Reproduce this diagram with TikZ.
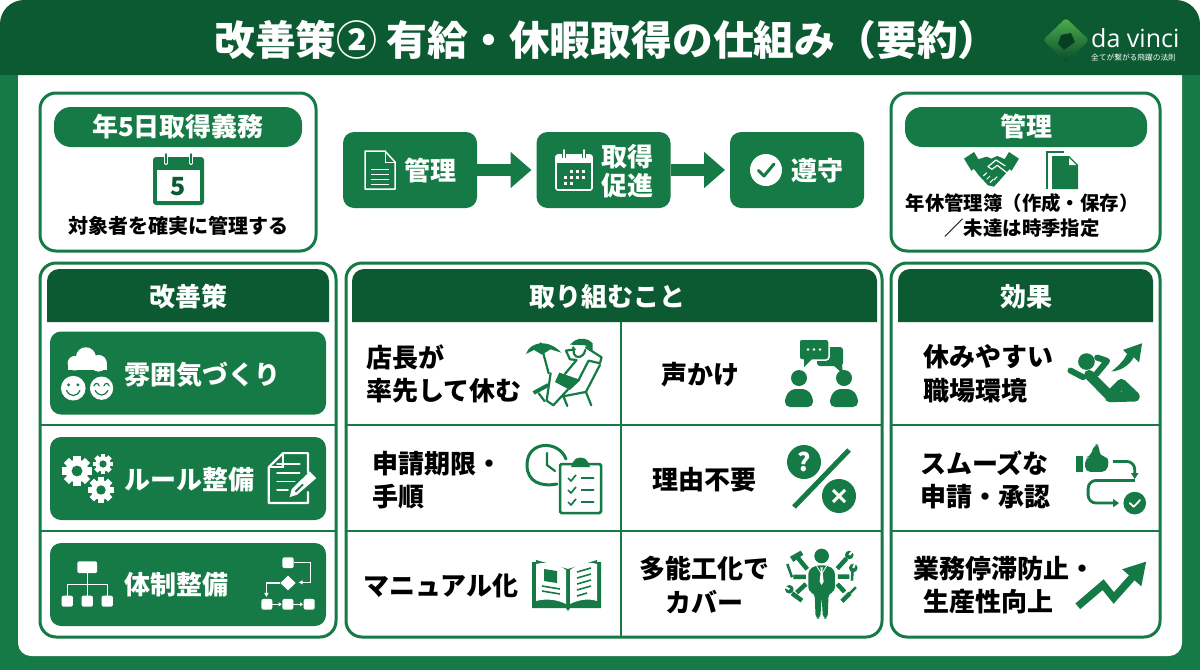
\documentclass[tikz,border=0pt]{standalone}
\usepackage{fontspec}
\setmainfont{Noto Sans CJK JP}
\newfontfamily\logofont{Open Sans}
\usetikzlibrary{arrows.meta}
\definecolor{hdrgreen}{HTML}{0B5A32}
\definecolor{boxgreen}{HTML}{157A45}
\newcommand\lblsize[2]{\fontsize{#1}{#2}\selectfont\bfseries}
\newcommand\stripband[5]{\fill [hdrgreen] (#1,322) [rounded corners = 12pt] -- (#1,269) -- (#2,269) [sharp corners] -- (#2,322) -- cycle; \node [striptext](#4) at (#3,296.5){#5};}
\newcommand\gearicon[3]{\begin{scope}[shift = {(#1,#2)}]
\foreach \a in {0,45,...,315} {\fill [white, rotate = \a] (-.24*#3,.5*#3) rectangle (.24*#3,#3);}
\fill [white] (0,0) circle (.76*#3);
\fill [boxgreen] (0,0) circle (.36*#3);
\end{scope}}
\newcommand\pageicon[3]{\begin{scope}[shift = {(#1,#2)}, scale = #3]
\draw [icon, white, line width = 1.5pt] (0,0) -- (20,0) -- (30,11) -- (30,38) -- (0,38) -- cycle;
\draw [white, line width = 1pt] (20,0) -- (20,11) -- (30,11);
\foreach \y in {18,23,28,33} {\draw [white, line width = 1pt] (6,\y) -- (24,\y);}
\end{scope}}
\newcommand\wrenchhead[2]{\fill [boxgreen] (#1) circle (13); \draw [white, line width = 2pt] (#1) -- +(#2);}
\begin{document}
\begin{tikzpicture}[x = 1pt, y = -1pt,
panel/.style = {draw = boxgreen, line width = 3pt, fill = white, rounded corners = 16pt, inner sep = 0pt, outer sep = 0pt},
pillbox/.style = {fill = boxgreen, rounded corners = 17pt, minimum height = 40pt, inner sep = 0pt, text = white, font = \lblsize{26}{30}},
flowbox/.style = {fill = boxgreen, rounded corners = 11pt, minimum width = 134pt, minimum height = 76pt, inner sep = 0pt, outer sep = 0pt},
btnbox/.style = {fill = boxgreen, rounded corners = 11pt, minimum width = 276pt, minimum height = 83pt, inner sep = 0pt, outer sep = 0pt},
flowarrow/.style = {draw = boxgreen, line width = 12pt, -{Triangle[length = 21pt, width = 35pt]}, shorten > = 5pt},
whitetext/.style = {text = white, inner sep = 0pt, font = \lblsize{26}{29}, align = center},
striptext/.style = {text = white, inner sep = 0pt, font = \lblsize{26}{30}},
celltext/.style = {text = black, inner sep = 0pt, font = \lblsize{26}{33.5}, align = left},
smalltext/.style = {text = black, inner sep = 0pt, font = \lblsize{20}{25}, align = center},
rule/.style = {draw = boxgreen, line width = 2.5pt},
icon/.style = {line join = round, line cap = round},
gline/.style = {draw = boxgreen, line width = 2.2pt, line join = round, line cap = round}]
\useasboundingbox (0,0) rectangle (1200,670);
\fill [boxgreen] (0,40) rectangle (1200,670);
\fill [white, rounded corners = 13pt] (18,50) rectangle (1182,656);
\fill [hdrgreen] (0,75) [rounded corners = 24pt] -- (0,0) -- (1200,0) [sharp corners] -- (1200,75) -- cycle;
\node [text = white, inner sep = 0pt, anchor = west, font = \lblsize{40.8}{44}](title) at (214,40){改善策② 有給・休暇取得の仕組み（要約）};
\shade [top color = green!55!black!70!white, bottom color = hdrgreen!80!black, rounded corners = 3pt] (1066,18) -- (1089,40) -- (1066,63) -- (1043,40) -- cycle;
\fill [hdrgreen!70!black] (1061,35) -- (1071,33) -- (1075,42) -- (1064,50) -- (1058,44) -- cycle;
\node [text = white, inner sep = 0pt, anchor = base west, font = \logofont\fontsize{25}{26}\selectfont](logo) at (1091,47){da vinci};
\node [text = white, inner sep = 0pt, anchor = west, font = \fontsize{7.7}{9}\selectfont](logosub) at (1091,58){全てが繋がる飛躍の法則};
\node [panel, minimum width = 276pt, minimum height = 158pt](duty) at (178,172){};
\node [pillbox, minimum width = 248pt](dutyhead) at (178,127){年5日取得義務};
\node [smalltext](dutytext) at (178,226){対象者を確実に管理する};
\begin{scope}[shift = {(153,153)}]
\fill [boxgreen, rounded corners = 3pt] (0,4) rectangle (51,52);
\fill [white] (4,17) rectangle (47,48);
\foreach \x in {13,38} {\draw [white, line width = 4pt, line cap = round] (\x,2) -- (\x,10); \draw [boxgreen, line width = 1.8pt, line cap = round] (\x,1) -- (\x,10);}
\end{scope}
\node [text = hdrgreen, inner sep = 0pt, font = \lblsize{25}{28}](dutyfive) at (178.5,187){5};
\matrix (flow) [column sep = 59.5pt, inner sep = 0pt] at (603.5,170) {
\node [flowbox](kanri){}; & \node [flowbox](sokushin){}; & \node [flowbox](junshu){}; \\
};
\draw [flowarrow](kanri) -- (sokushin);
\draw [flowarrow](sokushin) -- (junshu);
\pageicon{365}{151}{1}
\node [whitetext](kanritext) at (430,170.5){管理};
\begin{scope}[shift = {(556,150)}]
\draw [white, line width = 1.6pt, rounded corners = 2pt] (0,5) rectangle (36,40);
\fill [white] (0,5) rectangle (36,13);
\foreach \x in {8,28} {\draw [boxgreen, line width = 4pt] (\x,1) -- (\x,8); \draw [white, line width = 1.6pt, line cap = round] (\x,0) -- (\x,8);}
\foreach \x/\y in {14/20,20/20,26/20,8/26,14/26,20/26,26/26,8/32,14/32} {\fill [white] (\x,\y) rectangle +(3.4,3.4);}
\end{scope}
\node [whitetext](sokushintext) at (627,171){取得\\促進};
\fill [white] (766,170) circle (16pt);
\draw [boxgreen, line width = 3pt, line cap = round, line join = round] (758.5,170.5) -- (764,176) -- (774,164);
\node [whitetext](junshutext) at (817,170.5){遵守};
\node [panel, minimum width = 269pt, minimum height = 158pt](manage) at (1025.5,172){};
\node [pillbox, minimum width = 242pt](managehead) at (1026,127){管理};
\begin{scope}[shift = {(964,152)}, scale = .333]
\fill [boxgreen] (0,20) -- (30,0) -- (52,36) -- (22,56) -- cycle;
\fill [boxgreen] (165,20) -- (135,0) -- (113,36) -- (143,56) -- cycle;
\fill [boxgreen] (42,22) -- (68,14) -- (82,20) -- (100,12) -- (124,22) -- (138,50) -- (110,82) -- (90,104) -- (72,100) -- (46,72) -- (26,46) -- cycle;
\draw [white, line width = 1.2pt, line join = round] (124,42) -- (96,24) -- (72,44) -- (84,52) -- (100,40) -- (128,62);
\foreach \x/\y in {58/72,68/82,78/92,90/84} {\draw [white, line width = 1pt] (\x,\y) -- +(10,-10);}
\end{scope}
\begin{scope}[shift = {(1046,150)}]
\draw [boxgreen, line width = 2pt] (1,39) -- (1,2) -- (18,2);
\fill [boxgreen] (6,6) -- (23,6) -- (32,15) -- (32,39) -- (6,39) -- cycle;
\fill [white] (23,8) -- (30,15) -- (23,15) -- cycle;
\end{scope}
\node [smalltext, font = \lblsize{19.4}{25}](managetext) at (1022,215.5){年休管理簿（作成・保存）\\／未達は時季指定};
\node [panel, minimum width = 296pt, minimum height = 374pt](leftpanel) at (188,450){};
\node [panel, minimum width = 536pt, minimum height = 374pt](midpanel) at (614,450){};
\node [panel, minimum width = 269pt, minimum height = 374pt](rightpanel) at (1025.5,450){};
\foreach \y in {425,531} {
\draw [rule](40,\y) -- (336,\y);
\draw [rule](345,\y) -- (882,\y);
\draw [rule](891,\y) -- (1160,\y);
}
\draw [rule](621,322) -- (621,636);
\stripband{47}{329}{188}{lefthead}{改善策}
\stripband{352}{877}{607}{midhead}{取り組むこと}
\stripband{898}{1153}{1026}{righthead}{効果}
\node [btnbox](mood) at (188,373){};
\node [btnbox](rules) at (188,478.5){};
\node [btnbox](system) at (188,584.5){};
\node [whitetext, anchor = west](moodtext) at (124,374.5){雰囲気づくり};
\node [whitetext, anchor = west](rulestext) at (124,479.5){ルール整備};
\node [whitetext, anchor = west](systemtext) at (124,584.5){体制整備};
\begin{scope}[shift = {(0,260)}, scale = .333]
\fill [white] (225,310) circle (22) (258,292) circle (30) (296,310) circle (25);
\fill [white] (203,310) rectangle (321,330);
\fill [white] (220,385) circle (37) (305,385) circle (35);
\fill [boxgreen] (206,375) circle (5) (234,375) circle (5);
\draw [boxgreen, line width = 1.2pt, line cap = round] (200,392) .. controls (210,412) and (230,412) .. (240,392);
\draw [boxgreen, line width = 1.2pt, line cap = round] (282,378) .. controls (286,368) and (294,368) .. (298,378) (312,378) .. controls (316,368) and (324,368) .. (328,378) (286,392) .. controls (296,410) and (314,410) .. (324,392);
\end{scope}
\gearicon{77}{471}{15}
\gearicon{103}{464}{10}
\gearicon{101}{490}{13}
\begin{scope}[shift = {(0,260)}, scale = .333]
\draw [white, line width = 2.2pt, line join = round] (925,640) -- (925,580) -- (850,580) -- (807,622) -- (807,730) -- (925,730) -- (925,695);
\draw [white, line width = 1.6pt] (850,582) -- (850,622) -- (809,622);
\foreach \y/\e in {612/900,640/900,665/885,690/865} {\draw [white, line width = 1.6pt, line cap = round] (832,\y) -- (\e,\y);}
\fill [white] (930,635) -- (950,655) -- (892,705) -- (870,712) -- (876,688) -- cycle;
\fill [boxgreen] (908,672) -- (912,676) -- (889,698) -- (885,694) -- cycle;
\end{scope}
\begin{scope}[shift = {(0,260)}, scale = .333]
\fill [white, rounded corners = 2pt] (232,905) rectangle (292,940);
\foreach \x in {185,245,305} {\fill [white, rounded corners = 2pt] (\x,1008) rectangle +(34,33);}
\draw [white, line width = 1.2pt] (262,940) -- (262,1008) (202,1008) -- (202,975) -- (322,975) -- (322,1008);
\fill [white, rounded corners = 2pt] (848,893) rectangle (882,925);
\fill [white] (865,948) -- (888,970) -- (865,992) -- (842,970) -- cycle;
\foreach \x in {785,848,912} {\fill [white, rounded corners = 2pt] (\x,1018) rectangle +(33,32);}
\draw [white, line width = 1.2pt, -{Triangle[length = 4pt, width = 4pt]}] (882,908) -- (932,908) -- (932,968) -- (897,968);
\draw [white, line width = 1.2pt, -{Triangle[length = 4pt, width = 4pt]}] (840,970) -- (800,970) -- (800,1012);
\draw [white, line width = 1.2pt, -{Triangle[length = 3pt, width = 4pt]}] (818,1034) -- (846,1034);
\draw [white, line width = 1.2pt, -{Triangle[length = 3pt, width = 4pt]}] (881,1034) -- (910,1034);
\end{scope}
\node [celltext, anchor = west](r1) at (366,374){店長が\\率先して休む};
\node [celltext](r2) at (700,374.5){声かけ};
\node [celltext, anchor = west](r3) at (372,480){申請期限・\\手順};
\node [celltext](r4) at (704,480){理由不要};
\node [celltext](r5) at (441,586){マニュアル化};
\node [celltext, align = center](r6) at (704,585){多能工化で\\カバー};
\node [celltext, anchor = west](e1) at (923,373.5){休みやすい\\職場環境};
\node [celltext, anchor = west](e2) at (920,480){スムーズな\\申請・承認};
\node [celltext, anchor = west](e3) at (913,585){業務停滞防止・\\\hspace*{10pt}生産性向上};
\begin{scope}[shift = {(520,330)}, scale = .333]
\fill [boxgreen] (18,72) .. controls (30,35) and (85,25) .. (124,68) -- (92,58) -- (66,74) -- (42,60) -- cycle;
\draw [gline] (62,40) -- (86,130);
\draw [gline] (165,58) -- (138,62) -- (150,88) -- (170,90) (198,52) -- (245,82) -- (240,100) -- (206,92) (170,90) -- (135,132) (206,92) -- (176,150);
\draw [gline] (160,52) -- (162,72) .. controls (168,86) and (190,86) .. (196,60);
\fill [boxgreen] (150,44) -- (164,32) .. controls (180,22) and (205,24) .. (218,40) -- (218,62) -- (196,46) -- cycle;
\fill [boxgreen] (118,128) -- (182,150) -- (150,180) -- (105,156) -- cycle;
\draw [gline] (92,130) -- (80,212) -- (100,226) -- (150,172) (240,105) -- (198,186) -- (125,200) (198,186) -- (214,226) (130,198) -- (142,228);
\fill [boxgreen] (38,184) -- (82,160) -- (88,170) -- (44,194) -- cycle;
\draw [gline] (56,190) -- (74,214);
\end{scope}
\begin{scope}[shift = {(340,260)}]
\fill [boxgreen, rounded corners = 3pt] (477,87) rectangle (503,106);
\fill [boxgreen] (493,105) -- (503,114) -- (502,105) -- cycle;
\draw [white, line width = 1.5pt, fill = boxgreen, rounded corners = 3pt] (459,79) rectangle (489,100);
\fill [boxgreen] (464,99) -- (464,107) -- (472,99) -- cycle;
\fill [white] (468,89.5) circle (1.3pt) (474,89.5) circle (1.3pt) (480,89.5) circle (1.3pt);
\fill [boxgreen] (459,118) circle (8pt) (504,118) circle (8pt);
\fill [boxgreen, rounded corners = 5pt] (445,147) -- (445,137) -- (451,129) -- (467,129) -- (473,137) -- (473,147) -- cycle;
\fill [boxgreen, rounded corners = 5pt] (490,147) -- (490,137) -- (496,129) -- (512,129) -- (518,137) -- (518,147) -- cycle;
\end{scope}
\begin{scope}[shift = {(547,465)}]
\draw [boxgreen, line width = 3pt, line cap = round] (19,-6) .. controls (12,-25) and (-20,-25) .. (-20,0) .. controls (-20,17) and (-6,22) .. (10,19);
\draw [boxgreen, line width = 2.2pt, line cap = round] (0,-12) -- (0,0) -- (8,6);
\end{scope}
\begin{scope}[shift = {(560,464)}]
\draw [boxgreen, line width = 2.5pt, fill = white, rounded corners = 1.5pt] (0,0) rectangle (41,49);
\fill [boxgreen] (11,3) -- (13,-2) .. controls (15,-8) and (26,-8) .. (28,-2) -- (30,3) -- cycle;
\foreach \y in {14,26,38} {\draw [boxgreen, line width = 1.7pt] (8,\y) -- (11,\y+3) -- (16,\y-3) (21,\y) -- (34,\y);}
\end{scope}
\fill [boxgreen] (804,462) circle (17pt) (839,496) circle (17pt);
\draw [boxgreen, line width = 5pt](794,507) -- (849,450);
\node [text = white, inner sep = 0pt, font = \lblsize{25}{28}](question) at (804,462){?};
\draw [white, line width = 3pt] (833,490) -- (845,502) (845,490) -- (833,502);
\begin{scope}[shift = {(532,557)}]
\fill [boxgreen] (0,5) -- (0,51) -- (34,51) -- (36,54) -- (38,51) -- (69,51) -- (69,5) -- (65,5) -- (65,3) -- (36,12) -- (4,3) -- (4,5) -- cycle;
\fill [white] (4,7) .. controls (16,4) and (26,7) .. (34,13) -- (34,47) .. controls (26,43) and (15,41) .. (4,44) -- cycle;
\fill [white] (38,13) .. controls (46,7) and (56,4) .. (65,7) -- (65,44) .. controls (56,41) and (46,43) .. (38,47) -- cycle;
\fill [boxgreen] (12,12) -- (25,14) -- (25,26) -- (12,24) -- cycle;
\draw [boxgreen, line width = 1.6pt] (10,29) -- (28,32) (10,34) -- (28,37) (45,15) -- (59,11) (45,21) -- (59,17) (45,27) -- (59,23) (45,33) -- (59,29) (45,39) -- (55,36);
\end{scope}
\begin{scope}[shift = {(780,540)}, scale = .333]
\fill [boxgreen] (125,48) circle (22);
\fill [boxgreen, rounded corners = 4pt] (85,155) -- (85,90) -- (108,76) -- (142,76) -- (165,90) -- (165,155) -- (146,160) -- (143,236) -- (129,236) -- (125,170) -- (121,236) -- (107,236) -- (104,160) -- cycle;
\draw [white, line width = .8pt] (110,78) -- (125,102) -- (140,78);
\fill [white] (121,82) -- (129,82) -- (127,90) -- (131,125) -- (125,135) -- (119,125) -- (123,90) -- cycle;
\fill [boxgreen] (30,50) -- (62,32) -- (70,44) -- (40,66) -- cycle;
\draw [boxgreen, line width = 4.5pt] (82,88) -- (54,54) (40,111) -- (78,111) (50,158) -- (78,132) (172,86) -- (200,55) (174,110) -- (208,110) (172,132) -- (194,156) (36,160) -- (66,182) (186,184) -- (210,160);
\draw [boxgreen, line width = 2.5pt] (22,72) -- (36,112) (218,92) -- (216,122) (210,160) -- (228,142);
\wrenchhead{208,45}{14,-16}
\wrenchhead{28,148}{-14,-8}
\wrenchhead{220,84}{6,-16}
\end{scope}
\begin{scope}[shift = {(880,260)}, scale = .333]
\fill [boxgreen] (620,305) circle (25);
\draw [boxgreen, line width = 6pt, line join = round, line cap = round] (572,332) -- (610,352) (652,293) -- (682,303) -- (650,342);
\draw [boxgreen, line width = 10pt, line cap = round, line join = round] (628,345) -- (690,408) -- (725,372) -- (765,410) -- (690,412);
\fill [boxgreen] (695,335) .. controls (720,315) and (735,297) .. (742,282) -- (730,270) -- (787,250) -- (778,308) -- (762,292) .. controls (750,315) and (725,332) .. (695,335);
\fill [boxgreen] (590,590) rectangle (610,636);
\fill [boxgreen, rounded corners = 5pt] (616,594) -- (632,590) -- (644,552) -- (660,556) -- (658,588) -- (688,592) -- (682,636) -- (616,636) -- cycle;
\draw [boxgreen, line width = 2.8pt, rounded corners = 8pt, -{Triangle[length = 6pt, width = 7pt]}] (700,605) -- (765,605) -- (765,658);
\draw [boxgreen, line width = 2.8pt, rounded corners = 8pt, -{Triangle[length = 6pt, width = 8pt]}] (765,662) -- (625,662) -- (625,730) -- (718,730);
\fill [boxgreen] (765,730) circle (34);
\draw [white, line width = 1.8pt, line cap = round, line join = round] (750,730) -- (762,741) -- (781,721);
\draw [boxgreen, line width = 7.5pt, -{Triangle[length = 22pt, width = 24pt]}] (594,1040) -- (670,975) -- (702,1015) -- (800,905);
\end{scope}
\end{tikzpicture}
\end{document}
